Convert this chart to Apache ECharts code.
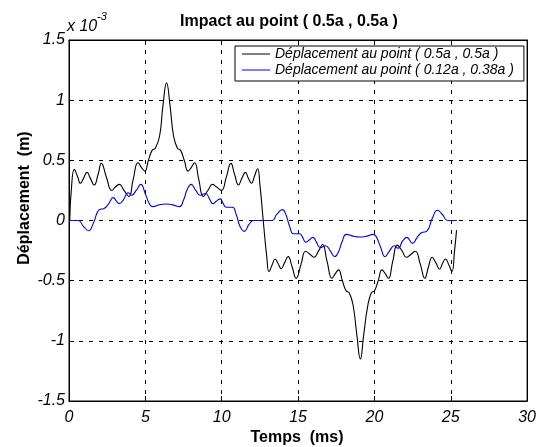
<!DOCTYPE html>
<html>
<head>
<meta charset="utf-8">
<script src="https://cdn.jsdelivr.net/npm/echarts@6/dist/echarts.min.js"></script>
<style>
  html, body { margin: 0; padding: 0; background: #fff; }
  #chart { width: 539px; height: 447px; }
</style>
</head>
<body>
<div id="chart"></div>
<script>
// Axis ticks (time in ms, displacement in units of 1e-3 m)
const xTicks = [0, 5, 10, 15, 20, 25, 30];
const yTicks = [-1.5, -1, -0.5, 0, 0.5, 1, 1.5];

const titleText = 'Impact au point ( 0.5a , 0.5a )';
const xName = 'Temps  (ms)';
const yName = 'Déplacement  (m)';
const seriesNames = [
  'Déplacement au point ( 0.5a , 0.5a )',
  'Déplacement au point ( 0.12a , 0.38a )'
];

// Displacement at the impact point ( 0.5a , 0.5a )
const tBlack = [
  0.05, 0.15, 0.35, 0.55, 0.75, 0.95, 1.18, 1.4, 1.65, 1.9,
  2.12, 2.45, 2.8, 3.05, 3.3, 3.6, 3.92, 4.2, 4.52, 4.75,
  4.96, 5.2, 5.45, 5.65, 5.93, 6.15, 6.39, 6.62, 6.85, 7.1,
  7.3, 7.55, 7.8, 8.0, 8.22, 8.5, 8.8, 9.1, 9.4, 9.65,
  9.98, 10.3, 10.6, 10.85, 11.1, 11.32, 11.55, 11.75, 11.95, 12.15,
  12.35, 12.5, 12.72, 12.95, 13.1, 13.3, 13.5, 13.7, 13.9, 14.12,
  14.35, 14.6, 14.88, 15.2, 15.5, 15.78, 16.05, 16.35, 16.6, 16.9,
  17.22, 17.45, 17.65, 17.9, 18.15, 18.35, 18.6, 18.85, 19.08, 19.3,
  19.55, 19.8, 20.0, 20.25, 20.5, 20.7, 20.92, 21.2, 21.5, 21.8,
  22.1, 22.4, 22.68, 23.0, 23.3, 23.55, 23.78, 24.02, 24.27, 24.45,
  24.65, 24.88, 25.07, 25.25, 25.38
];
const dBlack = [
  0, 0.25, 0.425, 0.37, 0.31, 0.35, 0.40, 0.35, 0.295, 0.38,
  0.475, 0.36, 0.25, 0.28, 0.30, 0.25, 0.20, 0.34, 0.48, 0.44,
  0.41, 0.50, 0.585, 0.60, 0.70, 0.95, 1.145, 0.95, 0.70, 0.60,
  0.585, 0.50, 0.41, 0.44, 0.48, 0.34, 0.20, 0.25, 0.30, 0.28,
  0.25, 0.36, 0.475, 0.38, 0.295, 0.35, 0.40, 0.35, 0.31, 0.37,
  0.43, 0.30, 0, -0.30, -0.425, -0.37, -0.32, -0.36, -0.40, -0.35,
  -0.30, -0.38, -0.48, -0.36, -0.255, -0.28, -0.305, -0.25, -0.20, -0.34,
  -0.48, -0.44, -0.41, -0.50, -0.585, -0.60, -0.70, -0.95, -1.15, -0.95,
  -0.72, -0.60, -0.585, -0.50, -0.41, -0.44, -0.48, -0.34, -0.205, -0.25,
  -0.305, -0.28, -0.255, -0.36, -0.48, -0.38, -0.305, -0.35, -0.405, -0.36,
  -0.32, -0.37, -0.425, -0.25, -0.08
];

// Displacement at the point ( 0.12a , 0.38a )
const tBlue = [
  0, 0.6, 0.95, 1.28, 1.6, 1.98, 2.3, 2.6, 2.89, 3.28,
  3.55, 3.87, 4.1, 4.4, 4.7, 5.0, 5.3, 5.5, 5.9, 6.37,
  6.8, 7.24, 7.5, 7.75, 8.0, 8.3, 8.6, 8.94, 9.2, 9.42,
  9.65, 9.9, 10.1, 10.3, 10.7, 10.95, 11.2, 11.48, 11.8, 12.1,
  13.3, 13.6, 13.98, 14.2, 14.45, 14.7, 15.1, 15.3, 15.5, 15.75,
  15.98, 16.2, 16.46, 16.8, 17.1, 17.4, 17.65, 17.9, 18.16, 18.6,
  19.03, 19.5, 19.9, 20.1, 20.4, 20.7, 21.0, 21.3, 21.55, 21.85,
  22.12, 22.5, 22.8, 23.1, 23.42, 23.8, 24.12, 24.45, 24.8, 25.4
];
const dBlue = [
  0, 0, -0.05, -0.085, -0.02, 0.09, 0.10, 0.14, 0.19, 0.14,
  0.17, 0.23, 0.21, 0.25, 0.30, 0.22, 0.13, 0.115, 0.13, 0.137,
  0.13, 0.115, 0.17, 0.26, 0.30, 0.25, 0.21, 0.225, 0.18, 0.14,
  0.16, 0.18, 0.14, 0.11, 0.11, 0.05, -0.05, -0.09, -0.03, 0,
  0, 0.05, 0.09, 0.05, -0.05, -0.11, -0.11, -0.14, -0.18, -0.16,
  -0.14, -0.18, -0.225, -0.21, -0.25, -0.30, -0.26, -0.17, -0.115, -0.13,
  -0.137, -0.13, -0.115, -0.13, -0.22, -0.30, -0.25, -0.21, -0.23, -0.17,
  -0.14, -0.19, -0.14, -0.10, -0.09, 0.02, 0.085, 0.05, 0, 0
];

const FONT = '"Liberation Sans", Arial, sans-serif';
const pairs = (ts, vs) => ts.map((t, i) => [t, vs[i]]);

const xMin = xTicks[0], xMax = xTicks[xTicks.length - 1], xStep = xTicks[1] - xTicks[0];
const yMin = yTicks[0], yMax = yTicks[yTicks.length - 1], yStep = yTicks[1] - yTicks[0];

const dashed = { show: true, lineStyle: { color: '#000', width: 1, type: [4, 6] } };
const tickIn = { show: true, inside: true, length: 5, lineStyle: { color: '#000', width: 1 } };
const line = { show: true, onZero: false, lineStyle: { color: '#000', width: 1 } };
const tickLabel = { color: '#000', fontFamily: FONT, fontStyle: 'italic', fontSize: 16 };

const chart = echarts.init(document.getElementById('chart'), null, { renderer: 'canvas' });
chart.setOption({
  animation: false,
  backgroundColor: '#fff',
  grid: { left: 69, right: 10, top: 40, bottom: 46, show: true, borderColor: '#000', borderWidth: 1 },
  xAxis: [
    { type: 'value', min: xMin, max: xMax, interval: xStep, position: 'bottom',
      axisLine: line, axisTick: tickIn, splitLine: dashed,
      axisLabel: Object.assign({ margin: 9, showMaxLabel: true, showMinLabel: true }, tickLabel) },
    { type: 'value', min: xMin, max: xMax, interval: xStep, position: 'top',
      axisLine: line, axisTick: tickIn, splitLine: { show: false }, axisLabel: { show: false } }
  ],
  yAxis: [
    { type: 'value', min: yMin, max: yMax, interval: yStep, position: 'left',
      axisLine: line, axisTick: tickIn, splitLine: dashed,
      axisLabel: Object.assign({ margin: 4 }, tickLabel) },
    { type: 'value', min: yMin, max: yMax, interval: yStep, position: 'right',
      axisLine: line, axisTick: tickIn, splitLine: { show: false }, axisLabel: { show: false } }
  ],
  legend: {
    left: 235, top: 46, orient: 'vertical',
    backgroundColor: '#fff', borderColor: '#000', borderWidth: 1, borderRadius: 0,
    padding: [1, 10, 4, 7], itemGap: 2, itemWidth: 28, itemHeight: 1, itemTextGap: 7,
    icon: 'rect',
    textStyle: { color: '#000', fontFamily: FONT, fontStyle: 'italic', fontSize: 14, lineHeight: 14 },
    data: seriesNames
  },
  series: [
    { name: seriesNames[0], type: 'line', data: pairs(tBlack, dBlack), showSymbol: false, symbol: 'none',
      smooth: 0.5, lineStyle: { color: '#000', width: 1.1 }, itemStyle: { color: '#000' } },
    { name: seriesNames[1], type: 'line', data: pairs(tBlue, dBlue), showSymbol: false, symbol: 'none',
      smooth: 0.5, lineStyle: { color: '#0000ff', width: 1.1 }, itemStyle: { color: '#0000ff' } }
  ],
  graphic: [
    { type: 'text', x: 289, y: 22, style: { text: titleText, fill: '#000', font: 'bold 16px ' + FONT, align: 'center', verticalAlign: 'middle' } },
    { type: 'text', x: 297, y: 438, style: { text: xName, fill: '#000', font: 'bold 16px ' + FONT, align: 'center', verticalAlign: 'middle' } },
    { type: 'text', x: 25, y: 198, rotation: Math.PI / 2, style: { text: yName, fill: '#000', font: 'bold 16px ' + FONT, align: 'center', verticalAlign: 'middle' } },
    { type: 'text', x: 67, y: 27, style: { text: 'x 10', fill: '#000', font: 'italic 16px ' + FONT, align: 'left', verticalAlign: 'middle' } },
    { type: 'text', x: 97, y: 17, style: { text: '-3', fill: '#000', font: 'italic 11px ' + FONT, align: 'left', verticalAlign: 'middle' } }
  ]
});
</script>
</body>
</html>
